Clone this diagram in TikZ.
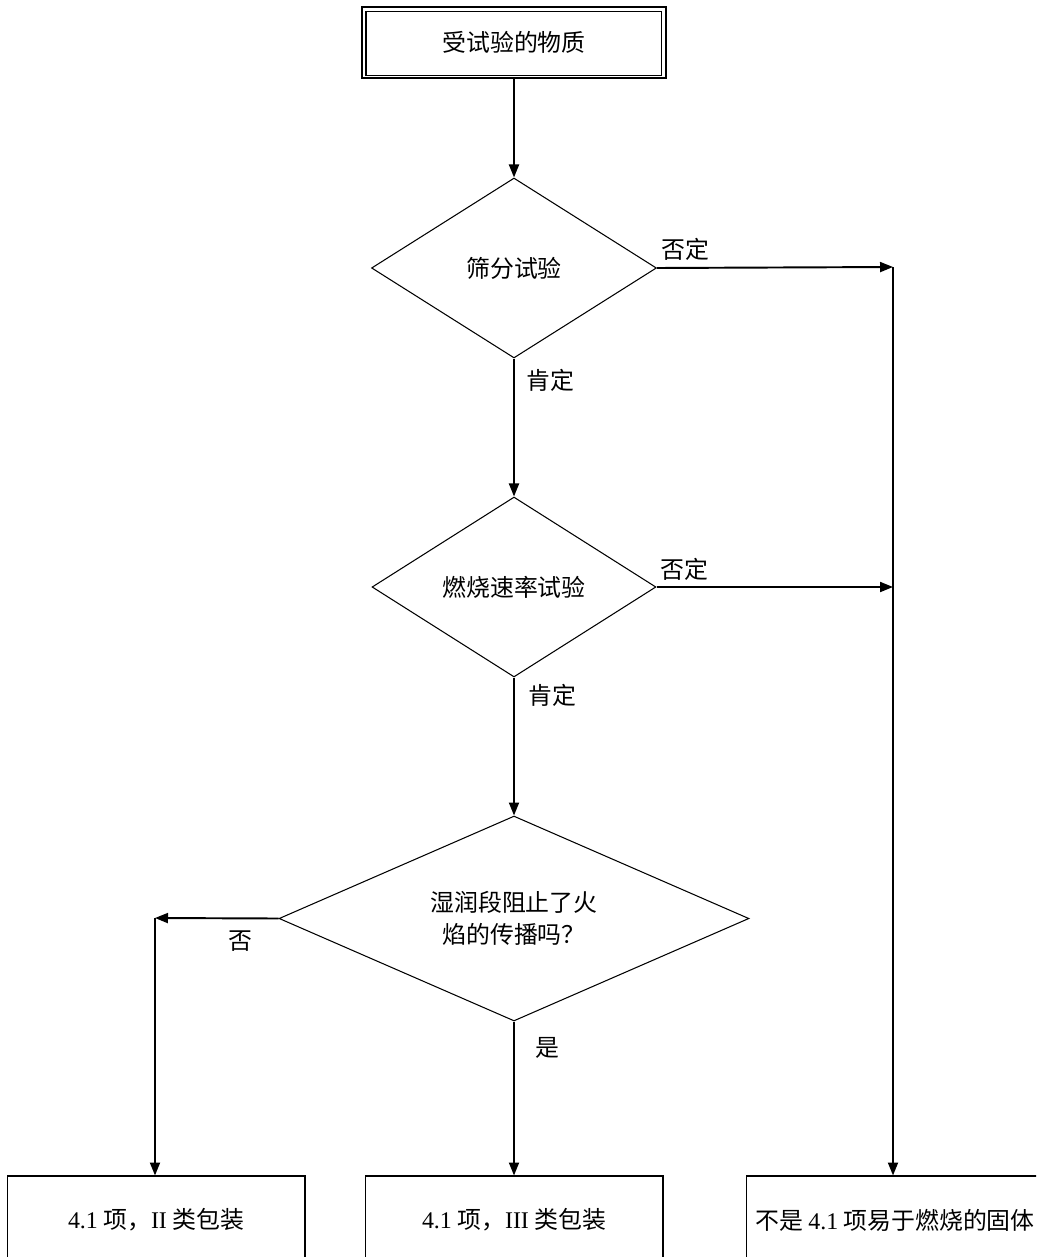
\documentclass[tikz,border=0pt]{standalone}
\usepackage{fontspec}
\setmainfont{Liberation Serif}
\newfontfamily\cjk{Noto Sans CJK SC}
\usetikzlibrary{arrows.meta,positioning,shapes.geometric}
\newcommand{\lat}[1]{{\rmfamily #1}}

\begin{document}
\begin{tikzpicture}[x=0.02cm,y=-0.02cm,>={Triangle[length=0.26cm,width=0.2cm]},
  every node/.style={font=\cjk\fontsize{13.6pt}{18.2pt}\selectfont},
  box/.style={draw,line width=0.6pt,minimum width=5.96cm,minimum height=1.76cm,inner sep=0pt},
  test/.style={draw,diamond,line width=0.6pt,inner sep=0pt,align=center},
  arr/.style={->,line width=1.1pt},
  lbl/.style={inner sep=0pt}]
  \useasboundingbox (0,0) rectangle (1036,1257);
  \clip (0,0) rectangle (1036,1257);
  % boxes and tests
  \node[box,line width=1.2pt,minimum width=6.08cm,minimum height=1.42cm] (sub) at (514,42.5) {受试验的物质};
  \draw[line width=0.6pt] ([shift={(5,6)}]sub.north west) rectangle ([shift={(-6,-4)}]sub.south east);
  \node[test,aspect=1.6,minimum width=5.7cm,minimum height=3.6cm] (sieve) at (514,268) {筛分试验};
  \node[test,aspect=1.6,minimum width=5.68cm,minimum height=3.6cm] (rate) at (514,587) {燃烧速率试验};
  \node[test,aspect=2.3,minimum width=9.4cm,minimum height=4.1cm] (wet) at (514,918.5) {湿润段阻止了火\\焰的传播吗？};
  \node[box] (pgII) at (156,1220) {\lat{4.1} 项，\lat{II} 类包装};
  \node[box] (pgIII) at (514,1220) {\lat{4.1} 项，\lat{III} 类包装};
  \node[box] (notfs) at (895,1220) {不是 \lat{4.1} 项易于燃烧的固体};
  \coordinate (neg1) at (893,267);
  \coordinate (neg2) at (893,587);
  \coordinate (nobr) at (155,918);
  % connectors
  \draw[arr] (sub.south) -- (sieve.north);
  \draw[arr] (sieve.south) -- node[lbl,pos=0.16,right=0.24cm] {肯定} (rate.north);
  \draw[arr] (rate.south) -- node[lbl,pos=0.13,right=0.28cm] {肯定} (wet.north);
  \draw[arr] (wet.south) -- node[lbl,pos=0.17,right=0.42cm] {是} (pgIII.north);
  \draw[arr] (sieve.east) -- node[lbl,pos=0.12,above=0.12cm] {否定} (neg1);
  \draw[arr] (rate.east) -- node[lbl,pos=0.12,above=0.12cm] {否定} (neg2);
  \draw[arr] (neg1) -- (neg1 |- notfs.north);
  \draw[arr] (wet.west) -- node[lbl,pos=0.31,below=0.22cm] {否} (nobr);
  \draw[arr] (nobr) -- (nobr |- pgII.north);
\end{tikzpicture}
\end{document}
